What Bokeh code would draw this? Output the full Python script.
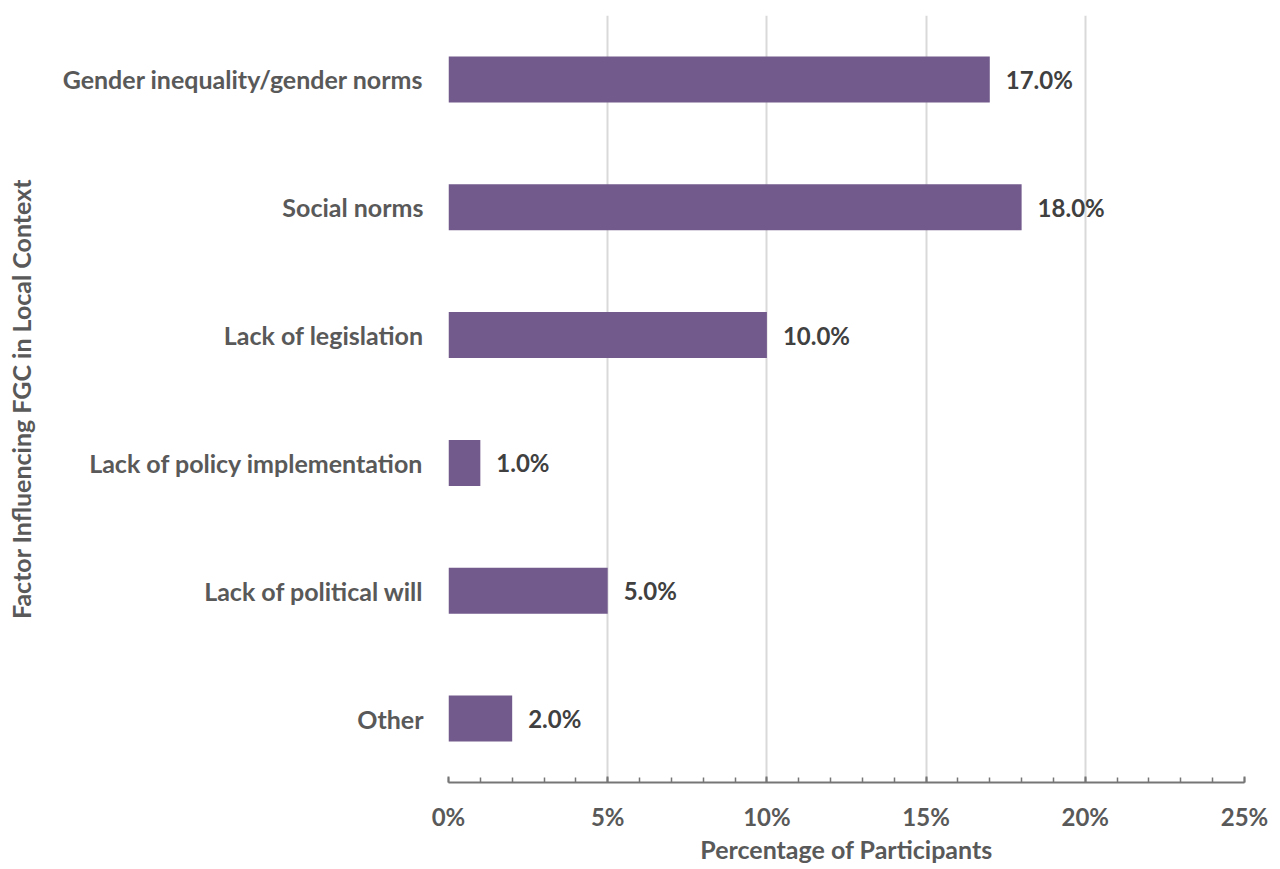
from bokeh.plotting import figure
from bokeh.models import FactorRange, Range1d, FixedTicker, PrintfTickFormatter, ColumnDataSource, LabelSet
from bokeh.core.properties import value
from bokeh.embed import file_html
from bokeh.resources import INLINE

categories = ["Gender inequality/gender norms", "Social norms", "Lack of legislation",
              "Lack of policy implementation", "Lack of political will", "Other"]
values = [17.0, 18.0, 10.0, 1.0, 5.0, 2.0]
value_labels = ["17.0%", "18.0%", "10.0%", "1.0%", "5.0%", "2.0%"]
x_ticks = [0, 5, 10, 15, 20, 25]

FONT = "Lato"
FS = "25px"
src = ColumnDataSource(dict(cat=categories, val=values, lab=value_labels))

p = figure(width=1280, height=869, output_backend="svg", toolbar_location=None,
           y_range=FactorRange(*reversed(categories)), x_range=Range1d(0, 25),
           min_border_left=448, min_border_right=36, min_border_top=15, min_border_bottom=87)
p.outline_line_color = None

p.hbar(y="cat", right="val", left=0, height=0.36, source=src, fill_color="#725A8C", line_color=None)

labels = LabelSet(x="val", y="cat", text="lab", source=src, x_offset=16,
                  text_baseline="middle", text_font=value(FONT), text_font_style="bold",
                  text_font_size="24px", text_color="#404040")
p.add_layout(labels)

xa = p.xaxis[0]
xa.ticker = FixedTicker(ticks=x_ticks, minor_ticks=list(range(26)))
xa.formatter = PrintfTickFormatter(format="%d%%")
xa.axis_line_color = "#767676"
xa.axis_line_width = 2
xa.major_tick_line_color = "#767676"
xa.major_tick_line_width = 2
xa.major_tick_in = 6
xa.major_tick_out = 0
xa.minor_tick_line_color = "#767676"
xa.minor_tick_line_width = 1.5
xa.minor_tick_in = 5
xa.minor_tick_out = 0
xa.major_label_text_font = FONT
xa.major_label_text_font_style = "bold"
xa.major_label_text_font_size = "24px"
xa.major_label_text_color = "#595959"
xa.major_label_standoff = 19
xa.axis_label = "Percentage of Participants"
xa.axis_label_text_font = FONT
xa.axis_label_text_font_style = "bold"
xa.axis_label_text_font_size = FS
xa.axis_label_text_color = "#595959"
xa.axis_label_standoff = 0

ya = p.yaxis[0]
ya.axis_line_color = None
ya.major_tick_line_color = None
ya.minor_tick_line_color = None
ya.major_label_text_font = FONT
ya.major_label_text_font_style = "bold"
ya.major_label_text_font_size = FS
ya.major_label_text_color = "#595959"
ya.major_label_standoff = 19
ya.axis_label = "Factor Influencing FGC in Local Context"
ya.axis_label_text_font = FONT
ya.axis_label_text_font_style = "bold"
ya.axis_label_text_font_size = FS
ya.axis_label_text_color = "#595959"
ya.axis_label_standoff = 24

p.xgrid.grid_line_color = "#D9D9D9"
p.xgrid.grid_line_width = 2
p.xgrid.ticker = FixedTicker(ticks=x_ticks)
p.ygrid.grid_line_color = None

open("out.html", "w").write(file_html(p, INLINE))
